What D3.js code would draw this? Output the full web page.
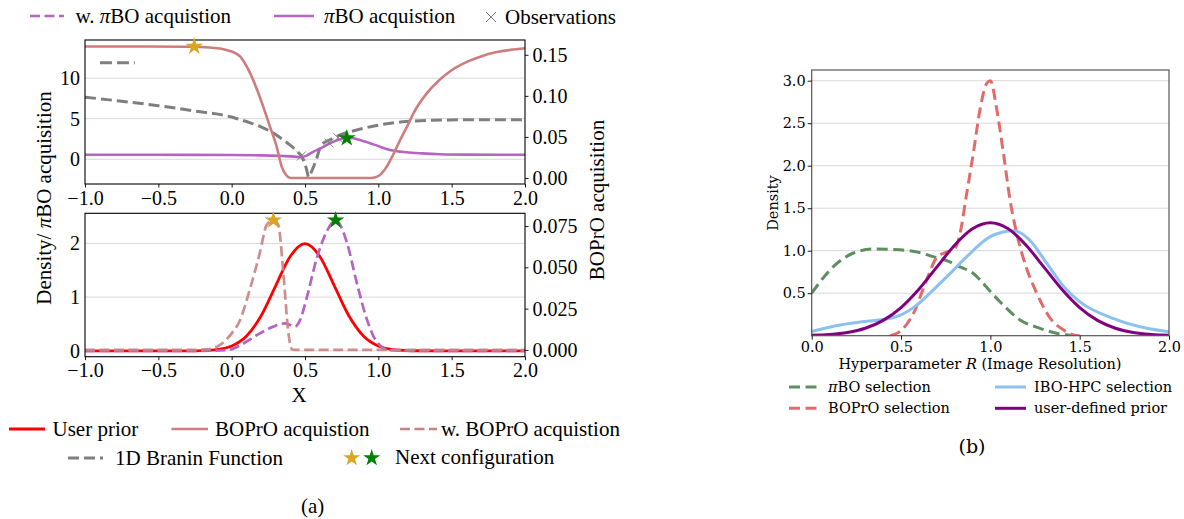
<!DOCTYPE html>
<html><head><meta charset="utf-8">
<script src="https://cdn.jsdelivr.net/npm/d3@7"></script>
<style>body{margin:0;background:#fff} svg{display:block}</style>
</head><body>
<svg id="fig" width="1184" height="519"></svg>
<script>
// ---------- (a) upper panel: acquisition functions on the 1D Branin problem ----------
const boproX = [-1.0, -0.6, -0.3, -0.15, -0.05, 0.0, 0.057, 0.125, 0.193, 0.261, 0.307, 0.341, 0.37, 0.39, 0.41, 0.95, 0.98, 1.02, 1.057, 1.1, 1.148, 1.2, 1.24, 1.33, 1.42, 1.49, 1.6, 1.7, 1.8, 1.9, 2.0];
const boproY = [0.160, 0.160, 0.1598, 0.1588, 0.1565, 0.154, 0.148, 0.128, 0.098, 0.0626, 0.038, 0.0138, 0.004, 0.0008, 0.0, 0.0, 0.0008, 0.005, 0.0138, 0.028, 0.046, 0.064, 0.079, 0.103, 0.12, 0.13, 0.141, 0.148, 0.153, 0.156, 0.158];

const braninX = [-1, -0.75, -0.5, -0.25, 0, 0.1, 0.2, 0.3, 0.38, 0.44, 0.48, 0.51, 0.525, 0.54, 0.57, 0.613, 0.67, 0.739, 0.852, 1.0, 1.19, 1.49, 1.75, 2.0];
const braninY = [7.65, 7.15, 6.6, 5.95, 5.2, 4.65, 4.0, 3.05, 2.0, 1.1, 0.25, -1.2, -2.2, -1.7, -0.4, 1.77, 2.4, 3.0, 3.6, 4.2, 4.65, 4.85, 4.88, 4.85];
const braninHandleX = [-0.898, -0.66];
const braninHandleY = [11.9, 11.9];

const piboX = [-1, -0.5, 0, 0.2, 0.35, 0.43, 0.47, 0.51, 0.557, 0.6, 0.648, 0.7, 0.739, 0.785, 0.83, 0.88, 0.94, 1.0, 1.08, 1.19, 1.3, 1.42, 1.6, 2.0];
const piboY = [0.55, 0.55, 0.53, 0.48, 0.4, 0.32, 0.25, 0.45, 0.94, 1.3, 1.77, 2.2, 2.48, 2.62, 2.58, 2.35, 2.0, 1.62, 1.15, 0.86, 0.72, 0.62, 0.57, 0.55];

const obsX = [0.475, 0.665, 0.725];
const obsY = [0.4, 2.0, 2.65];

// next configuration proposed in the upper panel (gold: right axis, green: left axis)
const nextTopGold = [-0.255, 0.160];
const nextTopGreen = [0.785, 2.6];

// ---------- (a) lower panel: prior and weighted acquisitions ----------
const priorX = [-1.0, -0.9, -0.8, -0.7, -0.6, -0.5, -0.4, -0.3, -0.2, -0.1, 0.0, 0.1, 0.2, 0.3, 0.4, 0.5, 0.6, 0.7, 0.8, 0.9, 1.0, 1.1, 1.2, 1.3, 1.4, 1.5, 1.6, 1.7, 1.8, 1.9, 2.0];
const priorY = [0, 0, 0, 0, 0, 0, 0, 0.0001, 0.0044, 0.0222, 0.0876, 0.27, 0.6476, 1.2099, 1.7603, 1.9947, 1.7603, 1.2099, 0.6476, 0.27, 0.0876, 0.0222, 0.0044, 0.0007, 0.0001, 0, 0, 0, 0, 0, 0];

const wBoproX = [-1, -0.3, -0.15, -0.08, 0.0, 0.057, 0.125, 0.19, 0.239, 0.284, 0.318, 0.352, 0.386, 0.41, 0.43, 2.0];
const wBoproY = [0, 0, 0.0005, 0.003, 0.01, 0.018, 0.037, 0.058, 0.0756, 0.0787, 0.0756, 0.047, 0.011, 0.0005, 0, 0];

const wPiboX = [-1, -0.2, -0.05, 0.011, 0.057, 0.17, 0.284, 0.364, 0.432, 0.466, 0.511, 0.58, 0.648, 0.709, 0.784, 0.852, 0.92, 0.989, 1.08, 1.2, 2.0];
const wPiboY = [0, 0, 0.01, 0.04, 0.1, 0.29, 0.45, 0.51, 0.45, 0.57, 0.98, 1.72, 2.22, 2.43, 2.03, 1.28, 0.6, 0.17, 0.01, 0, 0];

const nextBotGold = [0.284, 2.43];
const nextBotGreen = [0.709, 2.43];

// tick values
const xTicksA = [-1.0, -0.5, 0.0, 0.5, 1.0, 1.5, 2.0];
const topLeftTicks = [0, 5, 10];
const topRightTicks = [0.00, 0.05, 0.10, 0.15];
const botLeftTicks = [0, 1, 2];
const botRightTicks = [0.000, 0.025, 0.050, 0.075];

// ---------- (b) selection densities over image resolution ----------
const piboSelX = [0, 0.12, 0.23, 0.345, 0.494, 0.6, 0.68, 0.76, 0.83, 0.9, 0.95, 1.0, 1.054, 1.166, 1.278, 1.39, 1.45, 1.5];
const piboSelY = [0.5, 0.81, 0.97, 1.02, 1.01, 0.98, 0.93, 0.88, 0.81, 0.74, 0.64, 0.52, 0.4, 0.185, 0.087, 0.02, 0.005, 0];

const boproSelX = [0.438, 0.494, 0.569, 0.644, 0.7, 0.75, 0.8, 0.83, 0.868, 0.905, 0.942, 0.98, 1.0, 1.036, 1.073, 1.11, 1.148, 1.2, 1.26, 1.33, 1.41, 1.465, 1.5];
const boproSelY = [0, 0.05, 0.26, 0.66, 0.92, 0.98, 1.02, 1.2, 1.68, 2.15, 2.66, 2.97, 3.0, 2.66, 2.15, 1.6, 1.2, 0.81, 0.5, 0.22, 0.067, 0.01, 0];

const iboSelX = [0, 0.158, 0.308, 0.4, 0.494, 0.588, 0.681, 0.774, 0.868, 1.0, 1.07, 1.13, 1.22, 1.316, 1.41, 1.5, 1.69, 1.876, 2.0];
const iboSelY = [0.05, 0.126, 0.17, 0.19, 0.24, 0.36, 0.54, 0.73, 0.93, 1.165, 1.22, 1.235, 1.125, 0.85, 0.58, 0.4, 0.2, 0.087, 0.047];

const userPriorX = [0, 0.1, 0.2, 0.3, 0.4, 0.5, 0.6, 0.7, 0.8, 0.9, 1.0, 1.1, 1.2, 1.3, 1.4, 1.5, 1.6, 1.7, 1.8, 1.9, 2.0];
const userPriorY = [0.0051, 0.0146, 0.0376, 0.0874, 0.18, 0.3315, 0.5467, 0.8066, 1.0648, 1.2579, 1.3298, 1.2579, 1.0648, 0.8066, 0.5467, 0.3315, 0.18, 0.0874, 0.0376, 0.0146, 0.0051];

const xTicksB = [0.0, 0.5, 1.0, 1.5, 2.0];
const yTicksB = [0.5, 1.0, 1.5, 2.0, 2.5, 3.0];

// ---------- drawing ----------
const svg = d3.select("#fig");
const fontA = "'Liberation Serif', 'Times New Roman', serif";
const fontB = "'DejaVu Serif', serif";
const fsA = 21, fsTick = 20, fsB = 14.5;

const C = {
  bopro: "#cd7d7d", wBopro: "#c98282", pibo: "#b664c2", branin: "#7f7f7f",
  prior: "#ff0000", gold: "#daa520", green: "#008000",
  gSel: "#5e8f5e", rSel: "#e46a6a", bSel: "#8cc0ee", pSel: "#800080", grid: "#d9d9d9"
};

function pathOf(xs, ys, sx, sy, curve) {
  return d3.line().x((d, i) => sx(xs[i])).y((d, i) => sy(ys[i])).curve(curve || d3.curveMonotoneX)(xs);
}

function clip(id, x0, y0, x1, y1) {
  svg.append("clipPath").attr("id", id).append("rect")
    .attr("x", x0).attr("y", y0).attr("width", x1 - x0).attr("height", y1 - y0);
  return "url(#" + id + ")";
}

function styleAxis(g, font, size) {
  g.select(".domain").remove();
  g.selectAll(".tick line").attr("stroke", "#000").attr("stroke-width", 0.9);
  g.selectAll(".tick text").attr("font-family", font).attr("font-size", size).attr("fill", "#000");
}

function star(g, x, y, color, size) {
  g.append("path").attr("d", d3.symbol(d3.symbolStar, size || 95)())
    .attr("transform", `translate(${x},${y})`).attr("fill", color);
}

function cross(g, x, y, r, color) {
  g.append("path").attr("d", `M${x - r},${y - r}L${x + r},${y + r}M${x - r},${y + r}L${x + r},${y - r}`)
    .attr("stroke", color).attr("stroke-width", 1).attr("fill", "none");
}

// panel (a) geometry
const xA = d3.scaleLinear([-1, 2], [85, 525]);
const yTL = d3.scaleLinear([-3.05, 14.7], [184, 40]);
const yTR = d3.scaleLinear([-0.0073, 0.168], [184, 40]);
const yBL = d3.scaleLinear([-0.11, 2.56], [356.7, 213.3]);
const yBR = d3.scaleLinear([-0.0041, 0.0827], [356.7, 213.3]);

function panelA(yL, yR, leftTicks, rightTicks, rightFmt, id) {
  const [y1, y0] = yL.range();
  const g = svg.append("g");
  g.selectAll("line.grid").data(leftTicks).join("line")
    .attr("x1", xA.range()[0]).attr("x2", xA.range()[1])
    .attr("y1", d => yL(d)).attr("y2", d => yL(d))
    .attr("stroke", C.grid).attr("stroke-width", 1);
  const plot = g.append("g").attr("clip-path", clip(id, 85, y0, 525, y1));
  g.append("rect").attr("x", 85).attr("y", y0).attr("width", 440).attr("height", y1 - y0)
    .attr("fill", "none").attr("stroke", "#000").attr("stroke-width", 1.1);
  const ax = g.append("g").attr("transform", `translate(0,${y1})`)
    .call(d3.axisBottom(xA).tickValues(xTicksA).tickFormat(d3.format(".1f")).tickSize(3.5).tickPadding(3));
  styleAxis(ax, fontA, fsTick);
  const al = g.append("g").attr("transform", "translate(85,0)")
    .call(d3.axisLeft(yL).tickValues(leftTicks).tickFormat(d3.format("d")).tickSize(0).tickPadding(5));
  styleAxis(al, fontA, fsTick);
  const ar = g.append("g").attr("transform", "translate(525,0)")
    .call(d3.axisRight(yR).tickValues(rightTicks).tickFormat(d3.format(rightFmt)).tickSize(3.5).tickPadding(4));
  styleAxis(ar, fontA, fsTick);
  return { g, plot };
}

// upper panel
const T = panelA(yTL, yTR, topLeftTicks, topRightTicks, ".2f", "clipTop");
T.plot.append("path").attr("d", pathOf(braninX, braninY, xA, yTL))
  .attr("fill", "none").attr("stroke", C.branin).attr("stroke-width", 3).attr("stroke-dasharray", "11,5");
T.plot.append("path").attr("d", pathOf(braninHandleX, braninHandleY, xA, yTL, d3.curveLinear))
  .attr("fill", "none").attr("stroke", C.branin).attr("stroke-width", 3).attr("stroke-dasharray", "12,5");
T.plot.append("path").attr("d", pathOf(piboX, piboY, xA, yTL))
  .attr("fill", "none").attr("stroke", C.pibo).attr("stroke-width", 2.6);
T.plot.append("path").attr("d", pathOf(boproX, boproY, xA, yTR))
  .attr("fill", "none").attr("stroke", C.bopro).attr("stroke-width", 2.6);
obsX.forEach((x, i) => cross(T.g, xA(x), yTL(obsY[i]), 4.5, C.branin));
star(T.g, xA(nextTopGold[0]), yTR(nextTopGold[1]), C.gold);
star(T.g, xA(nextTopGreen[0]), yTL(nextTopGreen[1]), C.green);

// lower panel
const B = panelA(yBL, yBR, botLeftTicks, botRightTicks, ".3f", "clipBot");
B.plot.append("path").attr("d", pathOf(priorX, priorY, xA, yBL))
  .attr("fill", "none").attr("stroke", C.prior).attr("stroke-width", 2.8);
B.plot.append("path").attr("d", pathOf(wPiboX, wPiboY, xA, yBL))
  .attr("fill", "none").attr("stroke", C.pibo).attr("stroke-width", 2.7).attr("stroke-dasharray", "10,4.5");
B.plot.append("path").attr("d", pathOf(wBoproX, wBoproY, xA, yBR))
  .attr("fill", "none").attr("stroke", C.wBopro).attr("stroke-width", 2.7).attr("stroke-dasharray", "10,4.5")
  .attr("opacity", 0.9);
star(B.g, xA(nextBotGold[0]), yBL(nextBotGold[1]), C.gold);
star(B.g, xA(nextBotGreen[0]), yBL(nextBotGreen[1]), C.green);

// axis titles (a)
function textA(x, y, rot) {
  const t = svg.append("text").attr("font-family", fontA).attr("font-size", fsA).attr("fill", "#000")
    .attr("text-anchor", "middle").attr("dominant-baseline", "central");
  if (rot) t.attr("transform", `translate(${x},${y}) rotate(-90)`); else t.attr("x", x).attr("y", y);
  return t;
}
const yl = textA(44, 198, true);
yl.append("tspan").text("Density/ ");
yl.append("tspan").attr("font-style", "italic").text("π");
yl.append("tspan").text("BO acquisition");
textA(597, 200, true).text("BOPrO acquisition");
textA(299, 395).text("X");
textA(312.6, 506).text("(a)");

// legends (a)
function handle(x0, x1, y, color, width, dash) {
  const l = svg.append("line").attr("x1", x0).attr("x2", x1).attr("y1", y).attr("y2", y)
    .attr("stroke", color).attr("stroke-width", width);
  if (dash) l.attr("stroke-dasharray", dash);
}
function label(x, y, font, size) {
  return svg.append("text").attr("x", x).attr("y", y).attr("font-family", font).attr("font-size", size)
    .attr("fill", "#000").attr("dominant-baseline", "central");
}
handle(30, 64, 16, C.pibo, 2.7, "10,4.5");
const l1 = label(75.5, 16, fontA, fsA);
l1.append("tspan").text("w.  ");
l1.append("tspan").attr("font-style", "italic").text("π");
l1.append("tspan").text("BO acquistion");
handle(274, 314, 16, C.pibo, 2.6);
const l2 = label(324, 16, fontA, fsA);
l2.append("tspan").attr("font-style", "italic").text("π");
l2.append("tspan").text("BO acquistion");
cross(svg, 491, 17, 5, C.branin);
label(505, 17, fontA, fsA).text("Observations");

handle(9, 45, 429, C.prior, 2.8);
label(52.5, 429, fontA, fsA).text("User prior");
handle(171.5, 208, 429, C.bopro, 2.6);
label(215, 429, fontA, fsA).text("BOPrO acquistion");
handle(400, 437, 429, C.wBopro, 2.7, "10,4.5");
label(441, 429, fontA, fsA).text("w. BOPrO acquistion");
handle(68, 103, 458, C.branin, 3, "11,5");
label(115, 458, fontA, fsA).text("1D Branin Function");
star(svg, 351.7, 458, C.gold, 90);
star(svg, 371.7, 458, C.green, 90);
label(395, 457, fontA, fsA).text("Next configuration");

// ---------- panel (b) ----------
const xB = d3.scaleLinear([0, 2], [811.7, 1169]);
const yB = d3.scaleLinear([0, 3.126], [335.7, 70]);
const gb = svg.append("g");
gb.selectAll("line.grid").data(yTicksB).join("line")
  .attr("x1", 811.7).attr("x2", 1169).attr("y1", d => yB(d)).attr("y2", d => yB(d))
  .attr("stroke", C.grid).attr("stroke-width", 1);
const pb = gb.append("g").attr("clip-path", clip("clipB", 811.7, 70, 1169, 335.7));
pb.append("path").attr("d", pathOf(piboSelX, piboSelY, xB, yB))
  .attr("fill", "none").attr("stroke", C.gSel).attr("stroke-width", 3).attr("stroke-dasharray", "11,5.5");
pb.append("path").attr("d", pathOf(boproSelX, boproSelY, xB, yB))
  .attr("fill", "none").attr("stroke", C.rSel).attr("stroke-width", 3).attr("stroke-dasharray", "11,5.5");
pb.append("path").attr("d", pathOf(iboSelX, iboSelY, xB, yB))
  .attr("fill", "none").attr("stroke", C.bSel).attr("stroke-width", 3);
pb.append("path").attr("d", pathOf(userPriorX, userPriorY, xB, yB))
  .attr("fill", "none").attr("stroke", C.pSel).attr("stroke-width", 3);
gb.append("rect").attr("x", 811.7).attr("y", 70).attr("width", 1169 - 811.7).attr("height", 335.7 - 70)
  .attr("fill", "none").attr("stroke", "#555").attr("stroke-width", 1.2);
const bx = gb.append("g").attr("transform", "translate(0,335.7)")
  .call(d3.axisBottom(xB).tickValues(xTicksB).tickFormat(d3.format(".1f")).tickSize(4).tickPadding(2));
styleAxis(bx, fontB, fsB);
const by = gb.append("g").attr("transform", "translate(811.7,0)")
  .call(d3.axisLeft(yB).tickValues(yTicksB).tickFormat(d3.format(".1f")).tickSize(4).tickPadding(2));
styleAxis(by, fontB, fsB);

const xl = label(980, 364, fontB, fsB).attr("text-anchor", "middle");
xl.append("tspan").text("Hyperparameter ");
xl.append("tspan").attr("font-style", "italic").text("R");
xl.append("tspan").text(" (Image Resolution)");
svg.append("text").attr("transform", "translate(773,203) rotate(-90)")
  .attr("font-family", fontB).attr("font-size", fsB).attr("text-anchor", "middle")
  .attr("dominant-baseline", "central").text("Density");

handle(789, 819, 387, C.gSel, 3, "11,5.5");
const lb1 = label(828, 387, fontB, fsB);
lb1.append("tspan").attr("font-style", "italic").text("π");
lb1.append("tspan").text("BO selection");
handle(995, 1026, 387, C.bSel, 3);
label(1034, 387, fontB, fsB).text("IBO-HPC selection");
handle(789, 819, 408.3, C.rSel, 3, "11,5.5");
label(828, 408.3, fontB, fsB).text("BOPrO selection");
handle(995, 1026, 408.3, C.pSel, 3);
label(1034, 408.3, fontB, fsB).text("user-defined prior");
label(972, 446, fontB, 19).attr("text-anchor", "middle").text("(b)");
</script>
</body></html>
